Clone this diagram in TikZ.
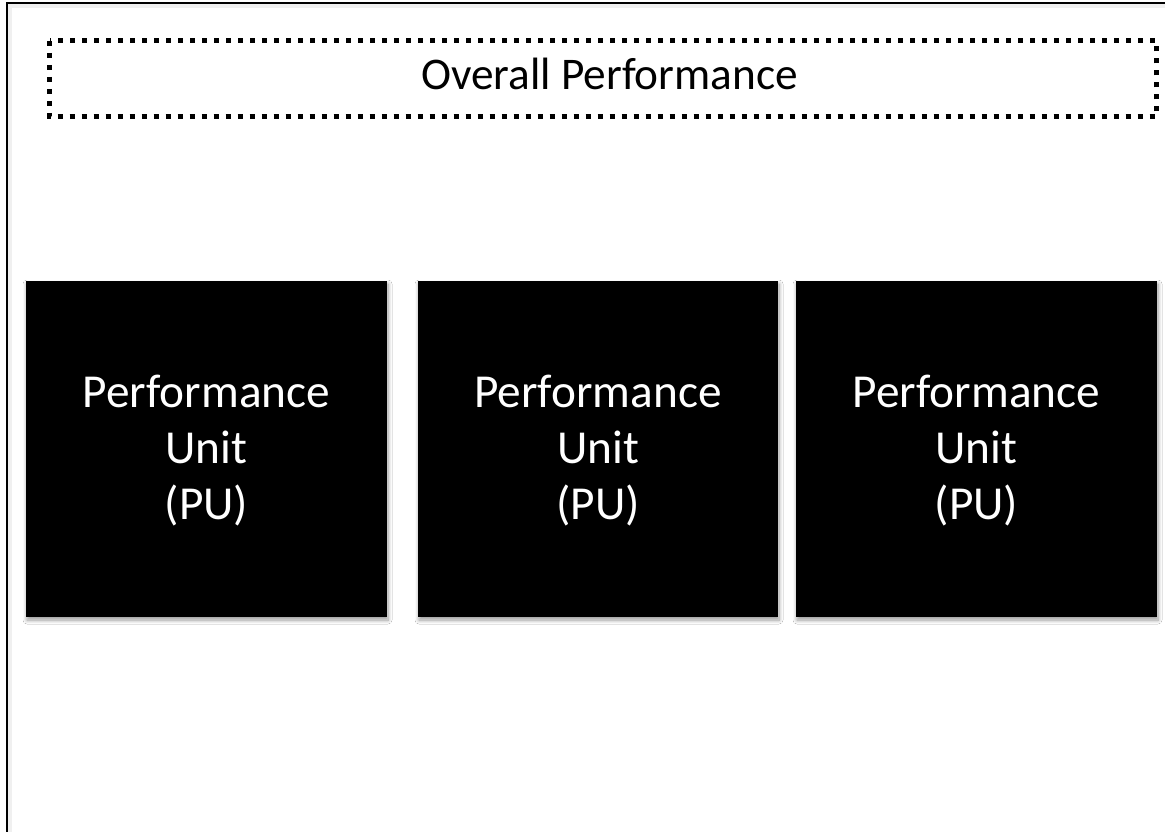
\documentclass[tikz,border=0pt]{standalone}
\usepackage{fontspec}
\setmainfont{Carlito}
\usetikzlibrary{shadows.blur}
\tikzset{
  pubox/.style={fill=black, draw=none,
    blur shadow={shadow xshift=1pt, shadow yshift=-3pt, shadow blur steps=8, shadow blur radius=4pt, shadow opacity=40}},
  ptext/.style={font=\fontsize{47.3}{56}\selectfont, text=white, align=center},
  titletext/.style={font=\fontsize{45.3}{52}\selectfont, anchor=base},
  dotbox/.style={draw=black, line width=5pt, dash pattern=on 5pt off 7pt},
  frame/.style={draw=black, line width=2.2pt}
}
\begin{document}
\begin{tikzpicture}[x=1pt,y=-1pt]
\useasboundingbox (0,0) rectangle (1165,832);
\fill[white] (0,0) rectangle (1165,832);
% faint inner shading of frame
\fill[black!6] (8,4) rectangle (12,832);
\fill[black!6] (8,4) rectangle (1165,8);
\coordinate (fl) at (7,832);
\coordinate (fc) at (7,3);
\coordinate (fr) at (1165,3);
\draw[frame] (fl) -- (fc) -- (fr);
% dotted title box
\draw[dotbox] (49.5,41) rectangle (1156,117);
\node[titletext] (title) at (609.5,90) {Overall Performance};
% performance units
\path[pubox] (26,281) rectangle (387,617);
\path[pubox] (418,281) rectangle (778,617);
\path[pubox] (796,281) rectangle (1157,617);
\node[ptext] (pu1) at (206.5,451) {Performance\\Unit\\(PU)};
\node[ptext] (pu2) at (598,451) {Performance\\Unit\\(PU)};
\node[ptext] (pu3) at (976.5,451) {Performance\\Unit\\(PU)};
\end{tikzpicture}
\end{document}
